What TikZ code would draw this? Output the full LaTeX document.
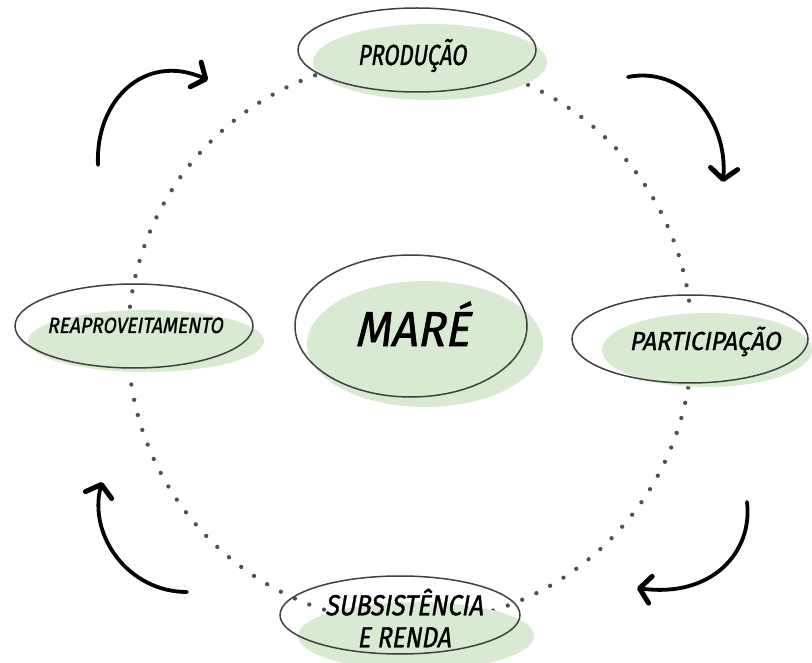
\documentclass[tikz,border=0pt]{standalone}
\usepackage{fontspec}
\usepackage{graphicx}
\newfontfamily\hand[FakeSlant=0.2,FakeBold=1.2]{Fira Sans}
\usetikzlibrary{arrows.meta}
\definecolor{leaf}{HTML}{D9EAD3}
\definecolor{rim}{HTML}{404040}
\definecolor{dotc}{HTML}{505050}
\begin{document}
\begin{tikzpicture}[x=1pt,y=-1pt,
  rimline/.style={draw=rim, line width=1.5pt},
  label/.style={text=black, inner sep=0pt, align=center},
  handarrow/.style={line width=3.8pt, line cap=round,
    -{Straight Barb[length=11pt,width=27pt,line width=5pt,round]}}]
\useasboundingbox (0,0) rectangle (812,663);
\fill[white] (0,0) rectangle (812,663);
\coordinate (hub) at (410,341);
\draw[dotc, line width=4.3pt, line cap=round, dash pattern=on 0pt off 15.6pt] (hub) circle [radius=282];

% green blobs
\fill[leaf] (430,62) ellipse [x radius=117, y radius=38];
\fill[leaf] (425,344) ellipse [x radius=118, y radius=63];
\fill[leaf] (707,350) ellipse [x radius=105, y radius=37];
\fill[leaf] (146,341) ellipse [x radius=118, y radius=31];
\fill[leaf] (416,636) ellipse [x radius=118, y radius=34];

% outlines
\draw[rimline] (417,50) ellipse [x radius=119, y radius=42];
\draw[rimline] (411,326) ellipse [x radius=116, y radius=71];
\draw[rimline] (690,339) ellipse [x radius=118, y radius=44];
\draw[rimline] (134,326) ellipse [x radius=119, y radius=42];
\draw[rimline] (400,615) ellipse [x radius=120, y radius=39];

% labels
\node[label, anchor=base, font=\hand\fontsize{29}{32}\selectfont] (prod) at (412,65) {\scalebox{0.75}[1]{PRODUÇÃO}};
\node[label, anchor=base, font=\hand\fontsize{49}{52}\selectfont] (mare) at (412,346) {\scalebox{0.94}[1]{MARÉ}};
\node[label, anchor=base, font=\hand\fontsize{26}{30}\selectfont] (part) at (705,350) {\scalebox{0.93}[1]{PARTICIPAÇÃO}};
\node[label, anchor=base, font=\hand\fontsize{22}{25}\selectfont] (reap) at (135,333) {\scalebox{0.87}[1]{REAPROVEITAMENTO}};
\node[label, font=\hand\fontsize{29}{32}\selectfont] (subs) at (404,618) {\scalebox{0.86}[1]{SUBSISTÊNCIA}\\\scalebox{0.84}[1]{E RENDA}};

% arrows
\coordinate (a1s) at (98,165);  \coordinate (a1e) at (208,80);
\coordinate (a2s) at (628,77);  \coordinate (a2e) at (723,182);
\coordinate (a3s) at (747,502); \coordinate (a3e) at (637,588);
\coordinate (a4s) at (187,592); \coordinate (a4e) at (102,482);
\draw[handarrow] (a1s) .. controls (95,100) and (145,52) .. (a1e);
\draw[handarrow] (a2s) .. controls (682,66) and (728,118) .. (a2e);
\draw[handarrow] (a3s) .. controls (753,552) and (712,598) .. (a3e);
\draw[handarrow] (a4s) .. controls (128,592) and (88,535) .. (a4e);
\end{tikzpicture}
\end{document}
